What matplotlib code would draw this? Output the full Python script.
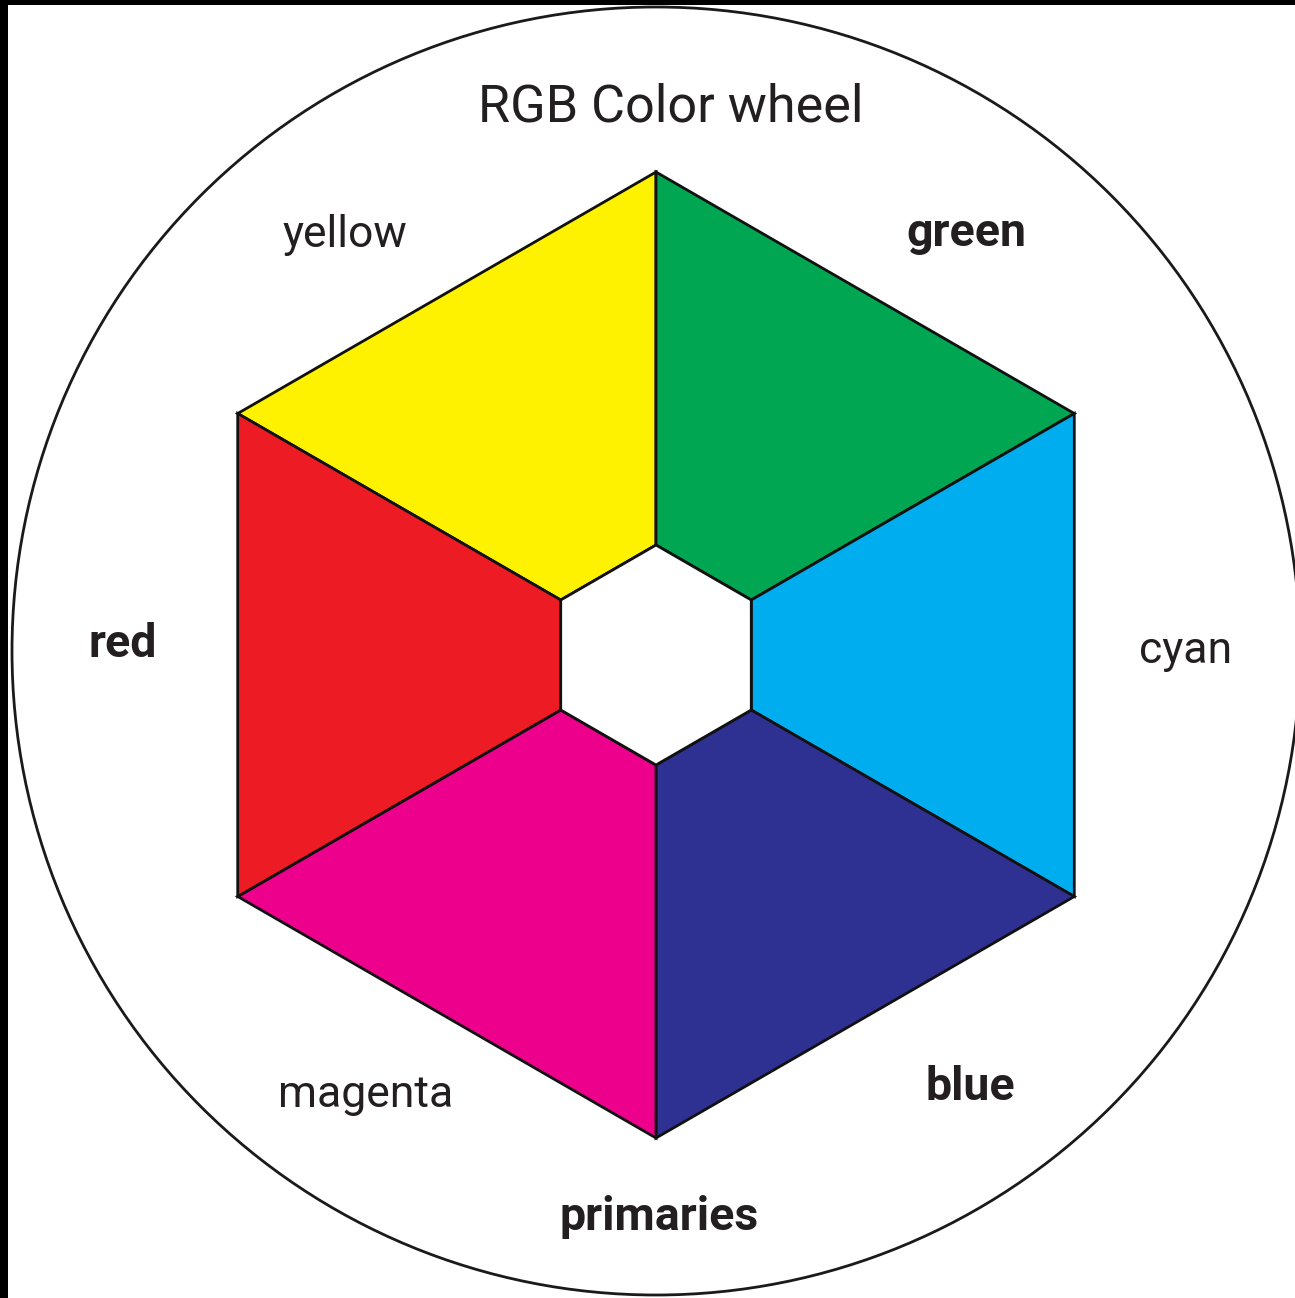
import numpy as np
import matplotlib
matplotlib.use("Agg")
import matplotlib.pyplot as plt
from matplotlib.patches import Polygon, Circle, Rectangle

# ---- data ----
segment_names = ["yellow", "green", "cyan", "blue", "magenta", "red"]
segment_colors = ["#FFF200", "#00A651", "#00AEEF", "#2E3192", "#EC008C", "#ED1C24"]
label_texts = ["yellow", "green", "cyan", "blue", "magenta", "red", "primaries"]
label_bold = [False, True, False, True, False, True, True]
title_text = "RGB Color wheel"

# ---- layout ----
W, H = 1295, 1298
cx, cy = 656, 655          # hexagon centre (pixels)
R_out, R_in = 483, 110     # hexagon radii
circ_c = (656, 651)
circ_r = 644
# segment i spans outer edge between vertex angles start -> end
seg_angles = [(150, 90), (90, 30), (30, -30), (-30, -90), (-90, -150), (-150, -210)]
label_pos = [(345, 247), (966, 246), (1186, 663), (970, 1100),
             (366, 1107), (123, 657), (659, 1230)]
title_pos = (671, 122)

plt.rcParams['font.family'] = ['Roboto', 'DejaVu Sans']

fig = plt.figure(figsize=(W / 100, H / 100), dpi=100, facecolor="white")
ax = fig.add_axes([0, 0, 1, 1])
ax.set_xlim(0, W)
ax.set_ylim(H, 0)
ax.set_aspect("auto")
ax.axis("off")

def pt(r, a):
    t = np.deg2rad(a)
    return (cx + r * np.cos(t), cy - r * np.sin(t))

ax.add_patch(Circle(circ_c, circ_r, facecolor="white", edgecolor="#1a1a1a",
                    lw=2.0, zorder=1))

for (a0, a1), col in zip(seg_angles, segment_colors):
    poly = [pt(R_in, a0), pt(R_out, a0), pt(R_out, a1), pt(R_in, a1)]
    ax.add_patch(Polygon(poly, closed=True, facecolor=col, edgecolor="#111111",
                         lw=2.0, joinstyle="miter", zorder=2))

inner = [pt(R_in, a) for a in (90, 30, -30, -90, -150, 150)]
ax.add_patch(Polygon(inner, closed=True, facecolor="white", edgecolor="#111111",
                     lw=2.0, zorder=3))

# black frame strips at top and left of the image
ax.add_patch(Rectangle((0, 0), W, 5, facecolor="black", edgecolor="none", zorder=5))
ax.add_patch(Rectangle((0, 0), 8, H, facecolor="black", edgecolor="none", zorder=5))

ax.text(title_pos[0], title_pos[1], title_text, ha="center", va="baseline",
        fontsize=37.5, color="#231f20", zorder=6)
for txt, bold, (x, y) in zip(label_texts, label_bold, label_pos):
    ax.text(x, y, txt, ha="center", va="baseline",
            fontsize=33.5 if bold else 32,
            fontweight="bold" if bold else "normal", color="#231f20", zorder=6)

fig.savefig("out.png", dpi=100, facecolor="white")
